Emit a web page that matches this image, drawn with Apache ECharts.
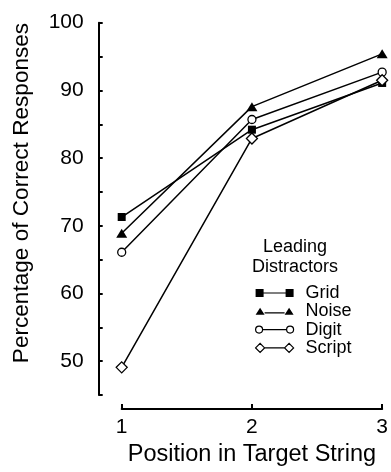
<!DOCTYPE html>
<html>
<head>
<meta charset="utf-8">
<script src="https://cdn.jsdelivr.net/npm/echarts@6/dist/echarts.min.js"></script>
<style>
  html, body { margin: 0; padding: 0; background: #fff; }
  #chart { width: 391px; height: 472px; }
</style>
</head>
<body>
<div id="chart"></div>
<script>
// ---- data ----
const positions = [1, 2, 3];
const seriesNames = ['Grid', 'Noise', 'Digit', 'Script'];
const gridValues   = [71.3, 84.2, 91.1];
const noiseValues  = [68.9, 87.6, 95.4];
const digitValues  = [66.1, 85.7, 92.7];
const scriptValues = [49.1, 82.9, 91.5];
const yTickLabels = [50, 60, 70, 80, 90, 100];
const xTickLabels = [1, 2, 3];

const FONT = '"Liberation Sans", Arial, Helvetica, sans-serif';

function pairs(vals) { return positions.map((p, i) => [p, vals[i]]); }

const filled = { color: '#000', borderColor: '#000', borderWidth: 0 };
const hollow = { color: '#fff', borderColor: '#000', borderWidth: 1.3 };

function mkSeries(name, vals, symbol, size, style) {
  return {
    name: name,
    type: 'line',
    data: pairs(vals),
    symbol: symbol,
    symbolSize: size,
    showAllSymbol: true,
    clip: false,
    lineStyle: { color: '#000', width: 1.5 },
    itemStyle: style,
    emphasis: { disabled: true },
    z: 3
  };
}

const legendIcons = {
  Grid:   'path://M0,0h8v8h-8z M8,3.4h22v1.2h-22z M30,0h8v8h-8z',
  Noise:  'path://M0,7L4.5,0L9,7z M9,4.4h20v1.2h-20z M29,7L33.5,0L38,7z',
  Digit:  'path://M0,4a3.5,3.5 0 1,0 7,0a3.5,3.5 0 1,0 -7,0z M7,4H31 M31,4a3.5,3.5 0 1,0 7,0a3.5,3.5 0 1,0 -7,0z',
  Script: 'path://M0,4.5L4.5,0L9,4.5L4.5,9z M9,4.5H29 M29,4.5L33.5,0L38,4.5L33.5,9z'
};

const chart = echarts.init(document.getElementById('chart'), null, { renderer: 'canvas' });
chart.setOption({
  animation: false,
  backgroundColor: '#fff',
  grid: { left: 121.7, right: 7.7, top: 22.7, bottom: 71.6, containLabel: false },
  xAxis: {
    type: 'value', min: 1, max: 3, interval: 1, offset: 14,
    axisLine: { show: true, lineStyle: { color: '#000', width: 2 } },
    axisTick: { show: true, inside: true, length: 5, lineStyle: { color: '#000', width: 2 } },
    splitLine: { show: false },
    axisLabel: {
      margin: 8, color: '#000', fontSize: 21, fontFamily: FONT,
      formatter: v => (xTickLabels.indexOf(v) >= 0 ? String(v) : '')
    },
    name: 'Position in Target String',
    nameLocation: 'middle', nameGap: 26,
    nameTextStyle: { color: '#000', fontSize: 23.5, fontFamily: FONT, verticalAlign: 'top' }
  },
  yAxis: {
    type: 'value', min: 45, max: 100, interval: 5, offset: 23,
    axisLine: { show: true, lineStyle: { color: '#000', width: 2 } },
    axisTick: { show: true, inside: true, length: 4, lineStyle: { color: '#000', width: 2 } },
    splitLine: { show: false },
    axisLabel: {
      margin: 15, color: '#000', fontSize: 21, fontFamily: FONT,
      formatter: v => (yTickLabels.indexOf(v) >= 0 ? String(v) : '')
    }
  },
  legend: {
    orient: 'vertical', left: 250, top: 279,
    itemWidth: 38, itemHeight: 9, itemGap: 0.3,
    selectedMode: false,
    symbolKeepAspect: true,
    textStyle: { color: '#000', fontSize: 18, fontFamily: FONT, lineHeight: 18, padding: [0, 0, 0, 7] },
    data: seriesNames.map(n => ({
      name: n,
      icon: legendIcons[n],
      itemStyle: (n === 'Grid' || n === 'Noise') ? { color: '#000', borderWidth: 0 } : { color: '#fff', borderColor: '#000', borderWidth: 1.2 }
    }))
  },
  graphic: [
    {
      type: 'text', x: 22, y: 193, rotation: Math.PI / 2,
      style: { text: 'Percentage of Correct Responses', fill: '#000', font: '22.6px ' + FONT, align: 'center', verticalAlign: 'middle' }
    },
    {
      type: 'text', x: 295, y: 257,
      style: { text: 'Leading\nDistractors', fill: '#000', font: '18px ' + FONT, align: 'center', verticalAlign: 'middle', lineHeight: 20 }
    }
  ],
  series: [
    mkSeries('Grid', gridValues, 'rect', 8, filled),
    mkSeries('Noise', noiseValues, 'triangle', [11, 9], filled),
    mkSeries('Digit', digitValues, 'circle', 8, hollow),
    mkSeries('Script', scriptValues, 'diamond', [11, 11], hollow)
  ]
});
</script>
</body>
</html>
